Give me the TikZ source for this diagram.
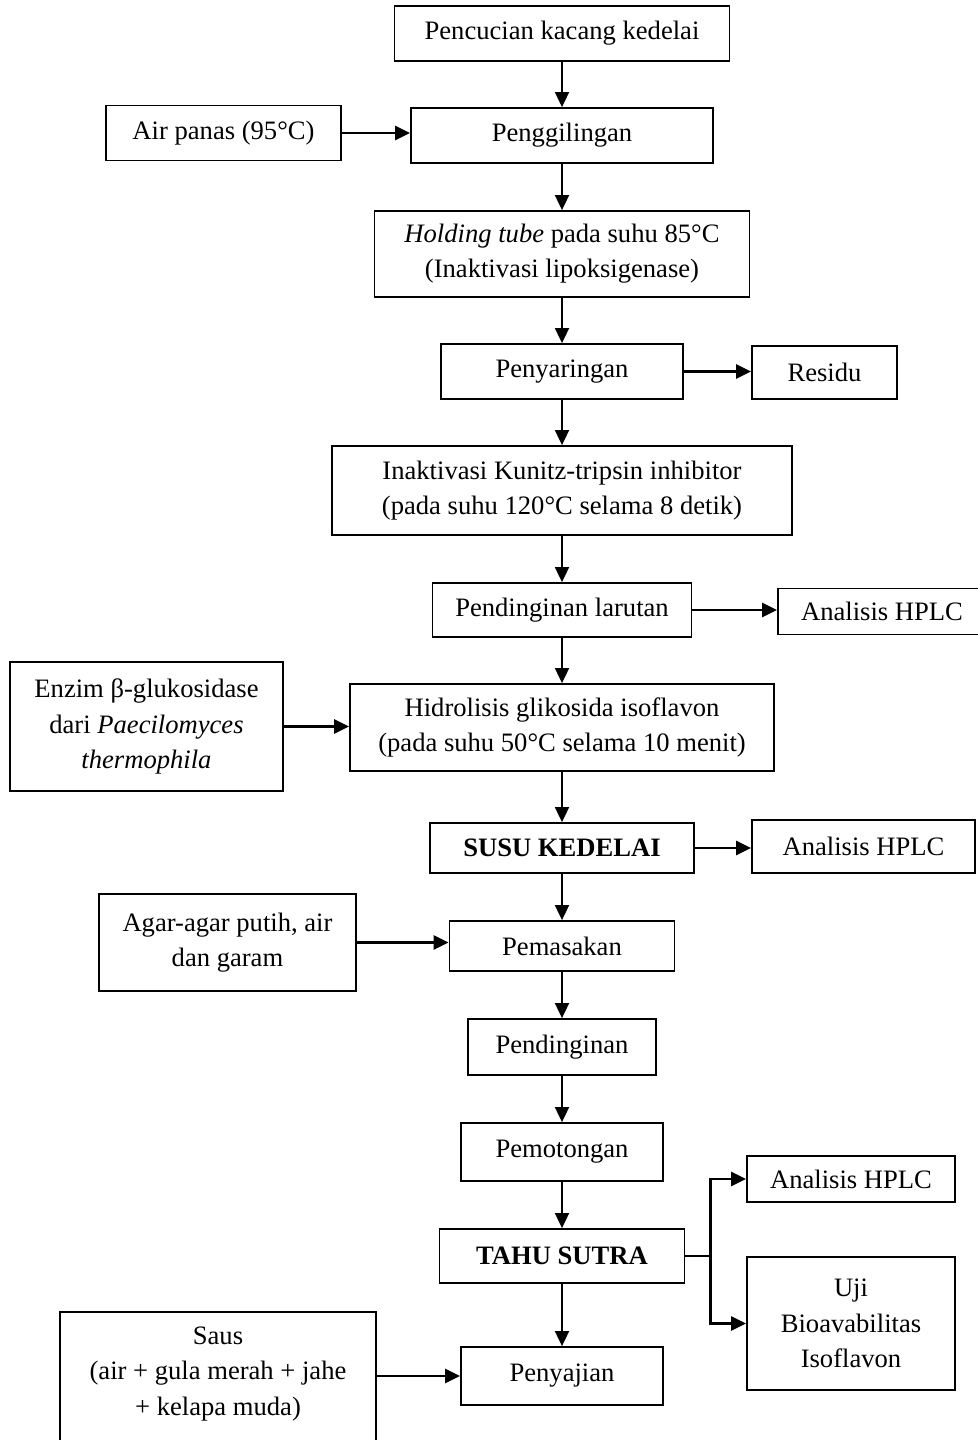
\documentclass[tikz,border=0pt]{standalone}
\usepackage{fontspec}
\setmainfont{Liberation Serif}
\usetikzlibrary{arrows.meta}
\def\px{0.5pt}
\tikzset{
  stepbox/.style={draw, line width=0.9pt, align=center, inner sep=0pt, minimum height=55*\px},
  flow/.style={-{Triangle[length=7.5pt,width=7pt]}, line width=0.9pt},
  sideflow/.style={flow, line width=1.3pt},
}

\begin{document}
\begin{tikzpicture}[x=0.5pt, y=-0.5pt, font=\fontsize{13.3pt}{17.6pt}\selectfont]
  \useasboundingbox (0,0) rectangle (978,1440);
  \clip (0,0) rectangle (978,1440);
  \def\mx{562}
  % main chain
  \node (wash)   [stepbox, minimum width=335*\px] at (\mx,33.5) {Pencucian kacang kedelai};
  \node (mill)   [stepbox, minimum width=302*\px] at (\mx,135.5) {Penggilingan};
  \node (hold)   [stepbox, minimum width=375*\px, minimum height=86*\px] at (\mx,254)
    {\textit{Holding tube} pada suhu 85°C\\(Inaktivasi lipoksigenase)};
  \node (filt)   [stepbox, minimum width=242*\px] at (\mx,371.5) {Penyaringan};
  \node (kunitz) [stepbox, minimum width=460*\px, minimum height=89*\px] at (\mx,490.5)
    {Inaktivasi Kunitz-tripsin inhibitor\\(pada suhu 120°C selama 8 detik)};
  \node (cool1)  [stepbox, minimum width=259*\px, minimum height=54*\px] at (\mx,610) {Pendinginan larutan};
  \node (hydro)  [stepbox, minimum width=424*\px, minimum height=87*\px] at (\mx,727.5)
    {Hidrolisis glikosida isoflavon\\(pada suhu 50°C selama 10 menit)};
  \node (milk)   [stepbox, minimum width=264*\px, minimum height=50*\px] at (\mx,848) {\textbf{SUSU KEDELAI}};
  \node (cook)   [stepbox, minimum width=225*\px, minimum height=50*\px] at (\mx,946) {Pemasakan};
  \node (cool2)  [stepbox, minimum width=188*\px, minimum height=56*\px] at (\mx,1047) {Pendinginan};
  \node (cut)    [stepbox, minimum width=202*\px, minimum height=58*\px] at (\mx,1152) {Pemotongan};
  \node (tofu)   [stepbox, minimum width=245*\px, minimum height=54*\px] at (\mx,1256) {\textbf{TAHU SUTRA}};
  \node (serve)  [stepbox, minimum width=202*\px, minimum height=58*\px] at (\mx,1376) {Penyajian};
  % inputs and outputs
  \node (air)    [stepbox, minimum width=235*\px] at (223.5,133) {Air panas (95°C)};
  \node (resid)  [stepbox, minimum width=145*\px, minimum height=53*\px] at (824.5,372.5) {Residu};
  \node (hplc1)  [stepbox, minimum width=208*\px, minimum height=46*\px] at (882,611.5) {Analisis HPLC};
  \node (enz)    [stepbox, minimum width=273*\px, minimum height=129*\px] at (146.5,726.5)
    {Enzim β-glukosidase\\dari \textit{Paecilomyces}\\\textit{thermophila}};
  \node (hplc2)  [stepbox, minimum width=223*\px, minimum height=53*\px] at (863.5,846.5) {Analisis HPLC};
  \node (agar)   [stepbox, minimum width=257*\px, minimum height=97*\px] at (227.5,942.5)
    {Agar-agar putih, air\\dan garam};
  \node (hplc3)  [stepbox, minimum width=208*\px, minimum height=46*\px] at (851,1179) {Analisis HPLC};
  \node (bio)    [stepbox, minimum width=208*\px, minimum height=133*\px] at (851,1323.5)
    {Uji\\Bioavabilitas\\Isoflavon};
  \node (saucebox) [stepbox, minimum width=316*\px, minimum height=160*\px, anchor=north] at (218,1311) {};
  \node (sauce)  [align=center, inner sep=0pt] at (218,1374) {Saus\\(air + gula merah + jahe\\+ kelapa muda)};
  % vertical flow
  \draw[flow] (wash) -- (mill);
  \draw[flow] (mill) -- (hold);
  \draw[flow] (hold) -- (filt);
  \draw[flow] (filt) -- (kunitz);
  \draw[flow] (kunitz) -- (cool1);
  \draw[flow] (cool1) -- (hydro);
  \draw[flow] (hydro) -- (milk);
  \draw[flow] (milk) -- (cook);
  \draw[flow] (cook) -- (cool2);
  \draw[flow] (cool2) -- (cut);
  \draw[flow] (cut) -- (tofu);
  \draw[flow] (tofu) -- (serve);
  % side arrows
  \draw[sideflow] (air.east) -- (air.east -| mill.west);
  \draw[sideflow] (filt.east) -- (filt.east -| resid.west);
  \draw[sideflow] (cool1.east) -- (cool1.east -| hplc1.west);
  \draw[sideflow] (enz.east) -- (enz.east -| hydro.west);
  \draw[sideflow] (milk.east) -- (milk.east -| hplc2.west);
  \draw[sideflow] (agar.east) -- (agar.east -| cook.west);
  \draw[sideflow] (saucebox.east |- serve.west) -- (serve.west);
  % fork after tahu sutra
  \draw[line width=1.1pt] (tofu.east) -- ++(25,0) coordinate (fork);
  \draw[sideflow] (fork) |- (hplc3.west);
  \draw[sideflow] (fork) |- (bio.west);
\end{tikzpicture}
\end{document}
